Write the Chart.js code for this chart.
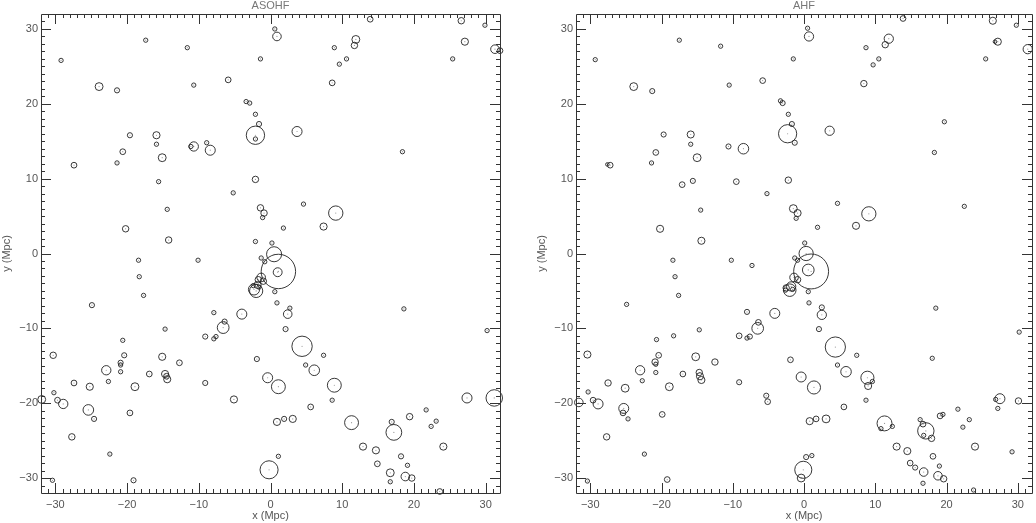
<!DOCTYPE html>
<html>
<head>
<meta charset="utf-8">
<title>ASOHF / AHF halo positions</title>
<script src="https://cdn.jsdelivr.net/npm/chart.js@4/dist/chart.umd.min.js"></script>
<style>
    body { margin:0; background:#fff; overflow:hidden; }
    canvas { position:absolute; top:0; }
</style>
</head>
<body>
<canvas id="chartAsohf" width="518" height="523" style="left:0"></canvas>
<canvas id="chartAhf" width="501" height="523" style="left:535px"></canvas>
<script>
// axis settings (Mpc)
var AXIS_MIN = -32, AXIS_MAX = 32;
var X_TICKS = [-30, -20, -10, 0, 10, 20, 30];
var Y_TICKS = [-30, -20, -10, 0, 10, 20, 30];

// ASOHF haloes: centre x, centre y, radius (Mpc)
var asohfX = [
    -29.2,-17.4,-11.6,-23.9,-21.4,-10.7,-5.9,-1.4,-3.4,-2.9,
    -2.1,-1.6,-2.1,-2.1,-19.6,-15.9,-15.9,-20.6,-15.1,-21.4,
    -27.4,-10.7,-11.1,-8.9,-8.4,-15.6,-5.2,-2.1,-14.4,-20.2,
    -14.2,-2.1,-1.4,-0.9,-1.1,0.6,0.9,13.9,11.9,11.7,
    8.9,10.6,9.6,8.6,26.6,29.9,27.1,25.4,31.3,32.0,
    3.7,18.4,4.6,9.1,7.4,1.8,0.2,0.5,-1.3,-0.8,
    1.1,1.0,-1.3,-1.7,-1.0,-1.8,-2.3,-2.0,-1.6,-2.4,
    -18.4,-18.3,-17.7,-10.1,-24.9,-7.9,-4.0,-6.4,-6.6,-14.7,
    -9.1,-7.6,-7.9,-20.6,-30.3,-20.4,-15.1,-12.7,-20.9,-20.9,
    -1.9,-22.9,-20.9,-16.9,-14.7,-14.5,-14.4,-27.4,-22.6,-9.1,
    -25.2,-18.9,-30.2,-29.7,-31.9,-28.9,-5.1,-19.6,-25.4,-24.6,
    -27.7,-22.4,-30.4,-19.1,-0.2,-0.4,0.6,0.9,2.7,2.4,
    2.1,18.6,30.2,4.4,7.4,4.9,6.1,1.1,8.9,8.6,
    5.6,0.9,1.9,3.1,11.3,1.1,16.9,17.2,19.4,21.7,
    23.1,22.4,27.4,31.2,12.9,14.7,14.9,24.1,18.2,19.1,
    16.7,16.7,18.8,19.7,23.6
];
var asohfY = [
    25.8,28.5,27.5,22.3,21.8,22.5,23.2,26.0,20.3,20.1,
    18.6,17.3,15.8,15.3,15.8,15.8,14.6,13.6,12.8,12.1,
    11.8,14.3,14.3,14.8,13.8,9.6,8.1,9.9,5.9,3.3,
    1.8,1.6,6.1,5.4,4.8,30.0,29.0,31.3,28.6,27.8,
    27.5,26.0,25.3,22.8,31.1,30.5,28.3,26.0,27.3,27.1,
    16.3,13.6,6.6,5.4,3.6,3.4,1.4,-0.1,-0.6,-1.1,
    -2.4,-2.5,-3.2,-3.5,-3.7,-4.2,-4.8,-5.0,-4.5,-4.3,
    -0.9,-3.1,-5.6,-0.9,-6.9,-7.9,-8.1,-9.1,-9.9,-10.1,
    -11.1,-11.1,-11.4,-11.6,-13.6,-13.6,-13.8,-14.6,-14.6,-14.9,
    -14.1,-15.6,-15.8,-16.1,-16.1,-16.4,-16.8,-17.3,-17.1,-17.3,
    -17.8,-17.8,-18.6,-19.6,-19.5,-20.1,-19.5,-21.3,-20.9,-22.1,
    -24.5,-26.8,-30.3,-30.3,-28.9,-16.6,-5.1,-6.6,-7.3,-8.1,
    -10.1,-7.4,-10.3,-12.4,-13.6,-14.9,-15.6,-17.8,-17.6,-19.6,
    -20.5,-22.5,-22.1,-22.1,-22.6,-27.1,-22.5,-23.9,-21.8,-20.9,
    -22.4,-23.1,-19.3,-19.3,-25.8,-26.3,-28.1,-25.8,-27.1,-28.3,
    -29.3,-30.5,-29.8,-30.0,-31.8
];
var asohfR = [
    .3,.3,.3,.55,.36,.3,.4,.3,.3,.3,
    .3,.36,1.28,.3,.36,.5,.3,.4,.55,.3,
    .4,.65,.3,.3,.7,.3,.3,.45,.3,.45,
    .45,.3,.45,.45,.3,.3,.6,.4,.55,.45,
    .3,.3,.3,.4,.45,.3,.5,.3,.6,.4,
    .7,.3,.3,1.0,.5,.3,.3,1.05,.3,.3,
    2.4,.62,.6,.45,.45,.5,.78,.92,.3,.3,
    .3,.3,.3,.3,.36,.3,.7,.36,.82,.3,
    .36,.3,.3,.3,.45,.36,.5,.4,.36,.3,
    .36,.65,.3,.4,.5,.4,.5,.4,.3,.36,
    .5,.55,.3,.4,.55,.65,.5,.4,.74,.36,
    .45,.3,.3,.36,1.26,.7,.3,.3,.3,.6,
    .36,.3,.3,1.42,.3,.3,.74,.97,.97,.3,
    .4,.5,.36,.5,.97,.3,.36,1.1,.45,.3,
    .3,.3,.7,1.15,.5,.5,.4,.5,.36,.3,
    .55,.3,.6,.45,.4
];

// AHF haloes: centre x, centre y, radius (Mpc)
var ahfX = [
    -29.3,-17.5,-11.7,-23.9,-21.3,-10.5,-5.8,-1.5,-3.3,-3.0,
    -2.2,-1.7,-2.3,-1.3,-19.7,-15.9,-15.9,-20.8,-15.0,-21.4,
    -27.2,-27.6,-10.6,-8.5,-17.1,-15.6,-9.5,-5.2,-2.2,-14.5,
    -20.2,-14.4,-1.5,-0.9,-1.1,0.1,0.5,0.7,13.9,11.9,
    11.4,8.7,10.5,9.7,8.4,26.5,29.8,27.2,26.8,25.5,
    31.4,3.6,19.7,18.3,4.7,9.1,7.3,1.9,22.5,-18.4,
    -18.1,-17.6,-10.2,-7.3,-24.9,-8.0,-4.1,-6.4,-6.5,-14.7,
    -9.1,-7.6,-8.0,-18.3,-20.7,-30.4,-20.4,-15.2,-12.5,-20.9,
    -20.8,-1.9,-23.0,-20.8,-17.0,-14.7,-14.6,-14.4,-22.7,-27.5,
    -9.1,-25.1,-18.9,-0.4,-30.3,-29.6,-31.6,-28.9,-5.3,-5.1,
    -25.3,-25.4,-24.7,-19.9,-27.7,-22.4,-30.4,-19.2,-0.1,-0.4,
    0.3,0.3,-1.3,-0.9,1.0,0.6,-1.4,-0.9,-1.8,-2.5,
    -2.0,-2.6,-1.6,0.6,0.7,2.5,2.5,2.1,18.5,30.2,
    4.4,7.4,18.0,4.7,5.9,1.4,8.9,9.0,9.6,8.7,
    5.6,0.8,1.7,3.1,11.3,10.8,12.4,13.0,14.5,14.9,
    15.6,16.8,16.7,16.3,16.7,17.1,16.8,17.9,18.1,19.0,
    18.8,19.6,19.1,19.5,21.6,23.2,22.3,24.0,27.5,26.9,
    27.2,30.1,29.2,23.8,1.1
];
var ahfY = [
    25.9,28.5,27.7,22.3,21.7,22.5,23.1,26.0,20.4,20.1,
    18.6,17.3,16.0,14.8,15.9,15.9,14.6,13.5,12.8,12.1,
    11.8,11.9,14.3,14.0,9.2,9.7,9.6,8.0,9.8,5.8,
    3.3,1.7,6.0,5.4,4.7,1.4,30.1,29.0,31.4,28.7,
    27.9,27.5,26.0,25.2,22.7,31.1,30.5,28.3,28.3,26.0,
    27.3,16.4,17.6,13.5,6.7,5.3,3.7,3.5,6.3,-0.9,
    -3.1,-5.6,-0.9,-1.6,-6.8,-7.8,-8.0,-9.2,-10.0,-10.2,
    -11.0,-11.1,-11.3,-11.0,-11.5,-13.5,-13.6,-13.8,-14.5,-14.5,
    -14.8,-14.2,-15.6,-15.9,-16.1,-15.9,-16.4,-16.9,-17.0,-17.3,
    -17.2,-18.0,-17.8,-16.5,-18.5,-19.6,-19.9,-20.1,-19.0,-19.8,
    -20.7,-21.3,-22.1,-21.5,-24.5,-26.8,-30.4,-30.2,-28.9,-30.0,
    -27.2,0.0,-0.6,-0.9,-2.4,-2.2,-3.2,-3.5,-4.4,-4.6,
    -4.9,-4.9,-4.8,-5.1,-6.6,-7.2,-8.2,-10.1,-7.3,-10.5,
    -12.5,-13.6,-14.0,-14.9,-15.8,-17.9,-16.6,-17.7,-17.1,-19.6,
    -20.5,-22.4,-22.1,-22.1,-22.7,-23.4,-23.1,-25.8,-26.4,-28.0,
    -28.6,-29.2,-30.7,-22.2,-22.8,-23.7,-24.3,-24.7,-27.1,-28.4,
    -29.7,-30.1,-21.7,-21.5,-20.8,-22.2,-23.2,-25.8,-19.4,-19.5,
    -20.7,-19.7,-26.5,-31.6,-27.0
];
var ahfR = [
    .3,.3,.3,.55,.36,.3,.4,.3,.3,.36,
    .3,.36,1.28,.36,.36,.5,.3,.4,.55,.3,
    .4,.25,.36,.74,.4,.36,.4,.3,.45,.3,
    .5,.5,.55,.5,.3,.3,.3,.65,.4,.65,
    .45,.3,.3,.3,.45,.5,.3,.5,.25,.3,
    .65,.65,.3,.3,.3,1.0,.5,.3,.3,.3,
    .3,.3,.3,.3,.3,.36,.7,.4,.82,.3,
    .4,.36,.3,.3,.3,.5,.4,.55,.45,.45,
    .3,.4,.65,.3,.4,.45,.5,.5,.3,.45,
    .36,.55,.55,.7,.3,.4,.6,.7,.36,.4,
    .7,.4,.3,.4,.45,.3,.3,.4,1.2,.55,
    .36,1.0,.3,.3,2.45,.82,.6,.45,.65,.45,
    .88,.3,.3,.3,.3,.36,.65,.36,.3,.3,
    1.42,.3,.3,.3,.74,.92,.92,.5,.3,.3,
    .4,.5,.4,.55,1.05,.3,.3,.5,.5,.4,
    .36,.6,.3,.3,.4,1.15,.3,.45,.4,.3,
    .6,.45,.4,.3,.3,.3,.3,.5,.7,.3,
    .3,.45,.3,.3,.3
];

var textColor = '#555';
var fontFamily = '"Liberation Sans", Arial, sans-serif';

var fmtTick = (v) => v < 0 ? '\u2212' + (-v) : String(v);

// frame and inward tick marks (minor every 1 Mpc, major every 10)
var frameTicks = {
    id: 'frameTicks',
    afterDatasetsDraw(chart) {
        var ctx = chart.ctx, a = chart.chartArea;
        var sx = chart.scales.x, sy = chart.scales.y;
        ctx.save();
        ctx.strokeStyle = '#333';
        ctx.lineWidth = 1;
        ctx.beginPath();
        ctx.rect(Math.round(a.left) + 0.5, Math.round(a.top) + 0.5,
                 Math.round(a.right - a.left), Math.round(a.bottom - a.top));
        for (var v = AXIS_MIN + 1; v < AXIS_MAX; v++) {
            var len = (v % 10 === 0) ? 10 : 4;
            var px = Math.round(sx.getPixelForValue(v)) + 0.5;
            ctx.moveTo(px, a.bottom); ctx.lineTo(px, a.bottom - len);
            ctx.moveTo(px, a.top); ctx.lineTo(px, a.top + len);
            var py = Math.round(sy.getPixelForValue(v)) + 0.5;
            ctx.moveTo(a.left, py); ctx.lineTo(a.left + len, py);
            ctx.moveTo(a.right, py); ctx.lineTo(a.right - len, py);
        }
        ctx.stroke();
        ctx.restore();
    }
};

var makePanel = (id, title, xs, ys, rs, padRight) => {
    var pts = xs.map((x, i) => ({ x: x, y: ys[i], r: rs[i] }));
    var pxPerMpc = (chart) => {
        var s = chart.scales.x;
        return Math.abs(s.getPixelForValue(1) - s.getPixelForValue(0));
    };
    return new Chart(document.getElementById(id), {
        type: 'scatter',
        data: {
            datasets: [
                {
                    data: pts,
                    pointStyle: 'circle',
                    backgroundColor: 'rgba(0,0,0,0)',
                    borderColor: '#222',
                    borderWidth: 0.9,
                    pointRadius: (c) => c.raw ? c.raw.r * pxPerMpc(c.chart) : 0,
                    clip: false
                },
                {
                    // centre dot of each halo
                    data: pts,
                    pointStyle: 'circle',
                    backgroundColor: '#999',
                    borderWidth: 0,
                    pointRadius: 0.6,
                    clip: false
                }
            ]
        },
        options: {
            responsive: false,
            animation: false,
            events: [],
            devicePixelRatio: 1,
            layout: { padding: { left: 0, right: padRight, top: 0, bottom: 0 } },
            plugins: {
                legend: { display: false },
                tooltip: { enabled: false },
                title: {
                    display: true,
                    text: title,
                    fullSize: false,
                    color: '#777',
                    font: { family: fontFamily, size: 11, weight: 'normal', lineHeight: 1 },
                    padding: { top: 0, bottom: 3 }
                }
            },
            scales: {
                x: {
                    type: 'linear',
                    position: 'bottom',
                    min: AXIS_MIN,
                    max: AXIS_MAX,
                    afterBuildTicks: (s) => { s.ticks = X_TICKS.map(v => ({ value: v })); },
                    afterFit: (s) => { s.height = 30; },
                    ticks: {
                        callback: fmtTick,
                        color: textColor,
                        font: { family: fontFamily, size: 11 },
                        padding: 5,
                        maxRotation: 0,
                        autoSkip: false
                    },
                    grid: { display: false, drawTicks: false },
                    border: { display: false },
                    title: {
                        display: true,
                        text: 'x (Mpc)',
                        color: textColor,
                        font: { family: fontFamily, size: 11 },
                        padding: 0
                    }
                },
                y: {
                    type: 'linear',
                    position: 'left',
                    min: AXIS_MIN,
                    max: AXIS_MAX,
                    afterBuildTicks: (s) => { s.ticks = Y_TICKS.map(v => ({ value: v })); },
                    afterFit: (s) => { s.width = 41; },
                    ticks: {
                        callback: fmtTick,
                        color: textColor,
                        font: { family: fontFamily, size: 11 },
                        padding: 3,
                        autoSkip: false
                    },
                    grid: { display: false, drawTicks: false },
                    border: { display: false },
                    title: {
                        display: true,
                        text: 'y (Mpc)',
                        color: textColor,
                        font: { family: fontFamily, size: 11 },
                        padding: 0
                    }
                }
            }
        },
        plugins: [frameTicks]
    });
};

makePanel('chartAsohf', 'ASOHF', asohfX, asohfY, asohfR, 18);
makePanel('chartAhf', 'AHF', ahfX, ahfY, ahfR, 1);
</script>
</body>
</html>
